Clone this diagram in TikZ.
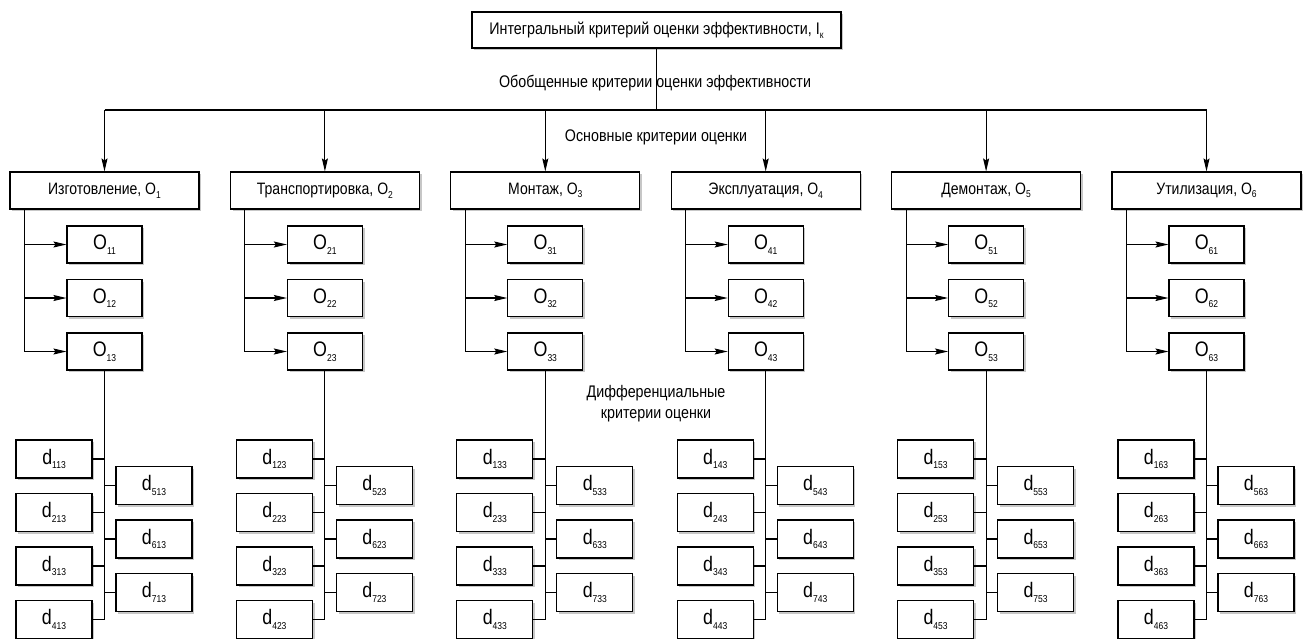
\documentclass[tikz,border=0pt]{standalone}
\usepackage{fontspec}
\setmainfont[FakeStretch=0.85]{Liberation Sans}
\usetikzlibrary{arrows.meta,shadows}
\newcommand\mysub[1]{\raisebox{-0.4ex}{\fontsize{10}{10}\selectfont #1}}
\tikzset{
  box/.style={draw, line width=1.1pt, fill=white, inner sep=0pt,
    drop shadow={shadow xshift=2.2pt, shadow yshift=-2.2pt, fill=black!22, opacity=1}},
  topbox/.style={box, minimum width=369pt, minimum height=36pt, font=\fontsize{16.8}{18}\selectfont},
  bigbox/.style={box, minimum width=189pt, minimum height=37pt, font=\fontsize{16.5}{18}\selectfont},
  obox/.style={box, minimum width=75pt, minimum height=37pt, font=\fontsize{21}{22}\selectfont},
  dbox/.style={box, minimum width=76pt, minimum height=38pt, font=\fontsize{21}{22}\selectfont},
  lbl/.style={inner sep=0pt, font=\fontsize{16.8}{21}\selectfont, align=center},
  ln/.style={line width=1.1pt},
  arr/.style={ln, -{Stealth[length=13pt,width=6pt,inset=2pt]}},
}
\begin{document}
\begin{tikzpicture}[x=1pt,y=-1pt]
\useasboundingbox (0,0) rectangle (1305,638);
\clip (0,0) rectangle (1305,638);
\fill[white] (0,0) rectangle (1305,638);
\node[topbox] (T) at (656.5,30) {Интегральный критерий оценки эффективности, I\mysub{к}};
\node[lbl] (L1) at (655,83) {Обобщенные критерии оценки эффективности};
\node[lbl] (L2) at (656,137) {Основные критерии оценки};
\node[lbl] (L3) at (656,404) {Дифференциальные\\критерии оценки};
\coordinate (busL) at (104.5,110);
\coordinate (busR) at (1206.5,110);
\foreach \i/\nm in {1/Изготовление,2/Транспортировка,3/Монтаж,4/Эксплуатация,5/Демонтаж,6/Утилизация}{
  \pgfmathsetmacro\cx{104.5+220.4*(\i-1)}
  \node[bigbox] (B\i) at (\cx,190.5) {\nm, O\mysub{\i}};
  \node[obox] (O\i1) at (\cx,244.5) {O\mysub{\i1}};
  \node[obox] (O\i2) at (\cx,298) {O\mysub{\i2}};
  \node[obox] (O\i3) at (\cx,351.5) {O\mysub{\i3}};
  \foreach \j/\y in {1/459,2/512.5,3/566,4/619.5}
    \node[dbox] (d\j\i) at (\cx-50.5,\y) {d\mysub{\j\i3}};
  \foreach \j/\y in {5/485.5,6/539,7/592.5}
    \node[dbox] (d\j\i) at (\cx+49.5,\y) {d\mysub{\j\i3}};
}
\draw[ln] (T.south) -- (T.south |- busL);
\draw[ln] (busL) -- (busR);
\foreach \i in {1,...,6}{
  \draw[arr] (B\i.north |- busL) -- (B\i.north);
  \foreach \k in {1,2,3}
    \draw[arr] ([xshift=15pt]B\i.south west) |- (O\i\k.west);
  \draw[ln] (O\i3.south) |- (d4\i.east);
  \foreach \j in {1,2,3}
    \draw[ln] (d\j\i.east) -- (d\j\i.east -| O\i3.south);
  \foreach \j in {5,6,7}
    \draw[ln] (d\j\i.west) -- (d\j\i.west -| O\i3.south);
}
\end{tikzpicture}
\end{document}
